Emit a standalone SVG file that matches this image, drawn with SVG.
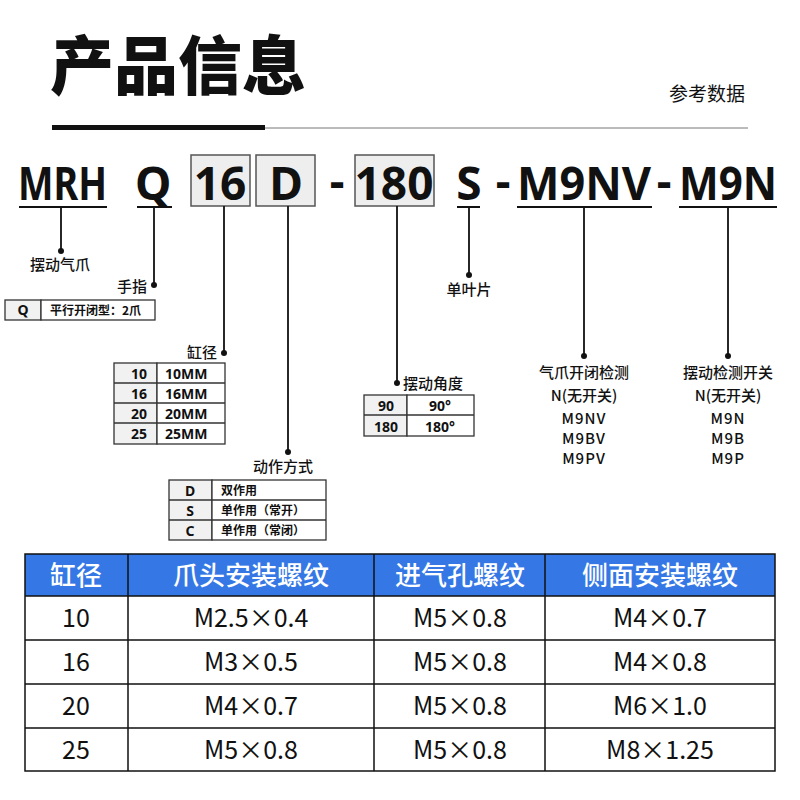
<svg xmlns="http://www.w3.org/2000/svg" width="800" height="800" viewBox="0 0 800 800">
<style>
text{font-family:"Noto Sans","Noto Sans CJK SC",sans-serif;fill:#111}
.cjk{font-family:"Noto Sans CJK SC",sans-serif}
.code{font-size:46px;font-weight:700}
.lab{font-size:15px;font-weight:500;font-family:"Noto Sans CJK SC",sans-serif}
.cell{font-size:14px;font-weight:700}
.small{font-size:12px;font-weight:700;font-family:"Noto Sans CJK SC",sans-serif}
.box{fill:#eeeeee;stroke:#555;stroke-width:1.5}
.tb{fill:#fff;stroke:#333;stroke-width:1.3}
.tk{fill:#f1f1f1;stroke:#333;stroke-width:1.3}
.ln{stroke:#111;stroke-width:1.8;fill:none}
.th{font-size:26px;fill:#fff;font-family:"Noto Sans CJK SC",sans-serif;font-weight:500}
.td{font-size:25px;font-family:"Noto Sans CJK SC",sans-serif}
</style>
<rect width="800" height="800" fill="#fff"/>
<g id="header">
<text x="50" y="89" class="cjk" font-size="64" font-weight="900">产品信息</text>
<text x="745" y="101" class="cjk" font-size="19" text-anchor="end" fill="#333">参考数据</text>
<line x1="52" y1="128" x2="748" y2="128" stroke="#777" stroke-width="1"/>
<rect x="52" y="125" width="213" height="5" fill="#111"/>
</g>
<g id="code">
<rect class="box" x="191" y="155" width="59" height="51"/>
<rect class="box" x="256" y="155" width="59" height="51"/>
<rect class="box" x="355" y="155" width="79" height="51"/>
<text class="code" x="18" y="200" textLength="89" lengthAdjust="spacingAndGlyphs">MRH</text>
<text class="code" x="135" y="200">Q</text>
<text class="code" x="220" y="200" text-anchor="middle">16</text>
<text class="code" x="286" y="200" text-anchor="middle">D</text>
<text class="code" x="337" y="198" text-anchor="middle">-</text>
<text class="code" x="394" y="200" text-anchor="middle">180</text>
<text class="code" x="469" y="200" text-anchor="middle">S</text>
<text class="code" x="503" y="198" text-anchor="middle">-</text>
<text class="code" x="517" y="200" textLength="134" lengthAdjust="spacingAndGlyphs">M9NV</text>
<text class="code" x="664" y="198" text-anchor="middle">-</text>
<text class="code" x="679" y="200" textLength="98" lengthAdjust="spacingAndGlyphs">M9N</text>
</g>
<g id="connectors">
<path class="ln" d="M19 207H107M61 207V251M137 207H172M154 207V285M224 206V353M288 206V452M397 206V383M457 207H480M469 207V275M517 207H652M584 207V356M679 207H777M728 207V356"/>
<g fill="#111"><circle cx="61" cy="251" r="3"/><circle cx="154" cy="285" r="3"/><circle cx="224" cy="353" r="3"/><circle cx="288" cy="452" r="3"/><circle cx="397" cy="383" r="3"/><circle cx="469" cy="275" r="3"/><circle cx="584" cy="356" r="3"/><circle cx="728" cy="356" r="3"/></g>
</g>
<g id="n-type">
<text class="lab" x="30" y="270">摆动气爪</text>
</g>
<g id="n-finger">
<text class="lab" x="147" y="292" text-anchor="end">手指</text>
<rect class="tk" x="5" y="300" width="36" height="20"/><rect class="tb" x="41" y="300" width="114" height="20"/>
<text class="cell" x="23" y="315" text-anchor="middle">Q</text>
<text class="small" x="50" y="315">平行开闭型：2爪</text>
</g>
<g id="n-bore">
<text class="lab" x="217" y="358" text-anchor="end">缸径</text>
<rect class="tk" x="114" y="363" width="43" height="81"/><rect class="tb" x="157" y="363" width="68" height="81"/>
<path d="M114 383H225M114 403H225M114 423H225" stroke="#333" stroke-width="1.3"/>
<g class="cell"><text x="139" y="379" text-anchor="middle">10</text><text x="139" y="399" text-anchor="middle">16</text><text x="139" y="419" text-anchor="middle">20</text><text x="139" y="439" text-anchor="middle">25</text>
<text x="165" y="379">10MM</text><text x="165" y="399">16MM</text><text x="165" y="419">20MM</text><text x="165" y="439">25MM</text></g>
</g>
<g id="n-action">
<text class="lab" x="253" y="472">动作方式</text>
<rect class="tk" x="169" y="480" width="43" height="60"/><rect class="tb" x="212" y="480" width="114" height="60"/>
<path d="M169 500H326M169 520H326" stroke="#333" stroke-width="1.3"/>
<g class="cell"><text x="190" y="496" text-anchor="middle">D</text><text x="190" y="516" text-anchor="middle">S</text><text x="190" y="536" text-anchor="middle">C</text></g>
<text class="small" x="221" y="495">双作用</text><text class="small" x="221" y="515">单作用（常开）</text><text class="small" x="221" y="535">单作用（常闭）</text>
</g>
<g id="n-angle">
<text class="lab" x="403" y="389">摆动角度</text>
<rect class="tk" x="364" y="395" width="43" height="41"/><rect class="tb" x="407" y="395" width="67" height="41"/>
<path d="M364 415H474" stroke="#333" stroke-width="1.3"/>
<g class="cell"><text x="386" y="411" text-anchor="middle">90</text><text x="386" y="432" text-anchor="middle">180</text>
<text x="440" y="411" text-anchor="middle">90°</text><text x="440" y="432" text-anchor="middle">180°</text></g>
</g>
<g id="n-vane"><text class="lab" x="469" y="295" text-anchor="middle">单叶片</text></g>
<g id="n-sw1" text-anchor="middle">
<text class="lab" x="584" y="378">气爪开闭检测</text>
<text class="lab" x="584" y="401">N(无开关)</text>
<text class="lab" x="584" y="424" letter-spacing="1">M9NV</text>
<text class="lab" x="584" y="444" letter-spacing="1">M9BV</text>
<text class="lab" x="584" y="464" letter-spacing="1">M9PV</text>
</g>
<g id="n-sw2" text-anchor="middle">
<text class="lab" x="728" y="378">摆动检测开关</text>
<text class="lab" x="728" y="401">N(无开关)</text>
<text class="lab" x="728" y="424" letter-spacing="1">M9N</text>
<text class="lab" x="728" y="444" letter-spacing="1">M9B</text>
<text class="lab" x="728" y="464" letter-spacing="1">M9P</text>
</g>
<g id="table">
<rect x="25" y="554" width="750" height="42" fill="#3578e5"/>
<rect x="25" y="554" width="750" height="217" fill="none" stroke="#111" stroke-width="1.5"/>
<path d="M25 596H775M25 640H775M25 684H775M25 728H775M128 554V771M374 554V771M545 554V771" stroke="#111" stroke-width="1.5"/>
<g text-anchor="middle">
<text class="th" x="76" y="585">缸径</text><text class="th" x="251" y="585">爪头安装螺纹</text><text class="th" x="460" y="585">进气孔螺纹</text><text class="th" x="660" y="585">侧面安装螺纹</text>
<text class="td" x="76" y="627">10</text><text class="td" x="251" y="627">M2.5×0.4</text><text class="td" x="460" y="627">M5×0.8</text><text class="td" x="660" y="627">M4×0.7</text>
<text class="td" x="76" y="671">16</text><text class="td" x="251" y="671">M3×0.5</text><text class="td" x="460" y="671">M5×0.8</text><text class="td" x="660" y="671">M4×0.8</text>
<text class="td" x="76" y="715">20</text><text class="td" x="251" y="715">M4×0.7</text><text class="td" x="460" y="715">M5×0.8</text><text class="td" x="660" y="715">M6×1.0</text>
<text class="td" x="76" y="759">25</text><text class="td" x="251" y="759">M5×0.8</text><text class="td" x="460" y="759">M5×0.8</text><text class="td" x="660" y="759">M8×1.25</text>
</g>
</g>
</svg>
